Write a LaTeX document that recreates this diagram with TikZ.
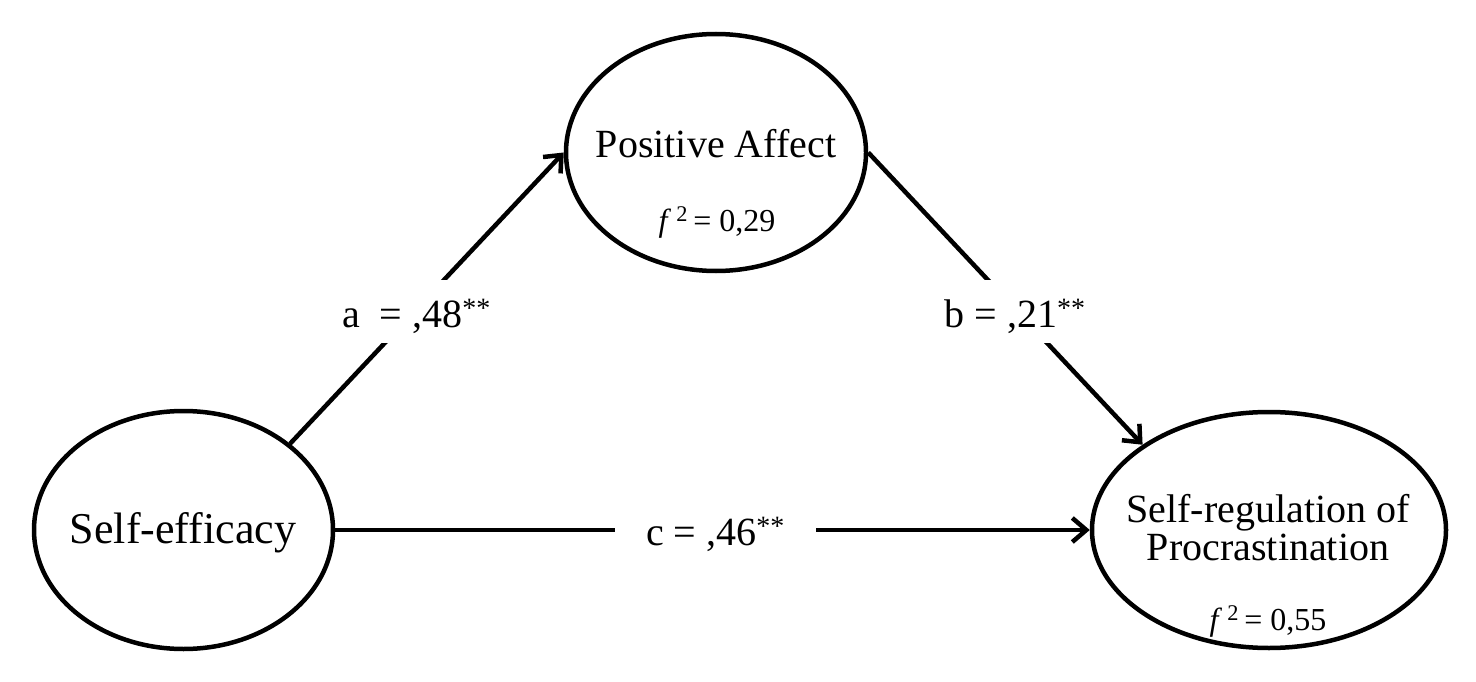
\documentclass[tikz,border=0pt]{standalone}
\usepackage{fontspec}
\setmainfont{Liberation Serif}
\usetikzlibrary{shapes.geometric,arrows.meta}
\begin{document}
\begin{tikzpicture}[x=1pt,y=-1pt,
  ell/.style={draw,ellipse,line width=4.5pt,inner sep=0pt},
  main/.style={font=\fontsize{40}{38}\selectfont,anchor=base,align=center},
  fsq/.style={font=\fontsize{32}{34}\selectfont,anchor=base},
  conn/.style={line width=4.5pt,-{Straight Barb[length=14pt,width=24pt,line width=4.5pt]}},
  coef/.style={font=\fontsize{40}{40}\selectfont,fill=white,anchor=base,inner ysep=0pt,inner xsep=31pt,text height=47pt,text depth=16pt}]
\useasboundingbox (0,0) rectangle (1476,682);
\fill[white] (0,0) rectangle (1476,682);
% ellipses
\node[ell,minimum width=299pt,minimum height=238pt] (se) at (183.5,530) {};
\node[ell,minimum width=300pt,minimum height=237pt] (pa) at (716,152.5) {};
\node[ell,minimum width=354pt,minimum height=236pt] (sr) at (1269,530) {};
% texts
\node[main,font=\fontsize{44}{44}\selectfont] (tse) at (183,543) {Self-efficacy};
\node[main] (tpa) at (716,158) {Positive Affect};
\node[fsq] (fpa) at (717,231) {\textit{f}\,\textsuperscript{2}\,= 0,29};
\node[main] (tsr) at (1268,522) {Self-regulation of};
\node[main] (tsr2) at (1268,560) {Procrastination};
\node[fsq] (fsr) at (1268,630) {\textit{f}\,\textsuperscript{2}\,= 0,55};
% connectors
\draw[conn] (se.39) -- (pa.west);
\draw[conn] (pa.east) -- (sr.146);
\draw[conn] (se.east) -- (sr.west);
% coefficients
\node[coef] (ca) at (416.5,327) {a\ \ = ,48\textsuperscript{**}};
\node[coef] (cb) at (1015,327) {b = ,21\textsuperscript{**}};
\node[coef,text height=34pt,text depth=10pt] (cc) at (715.5,545) {c = ,46\textsuperscript{**}};
\end{tikzpicture}
\end{document}
